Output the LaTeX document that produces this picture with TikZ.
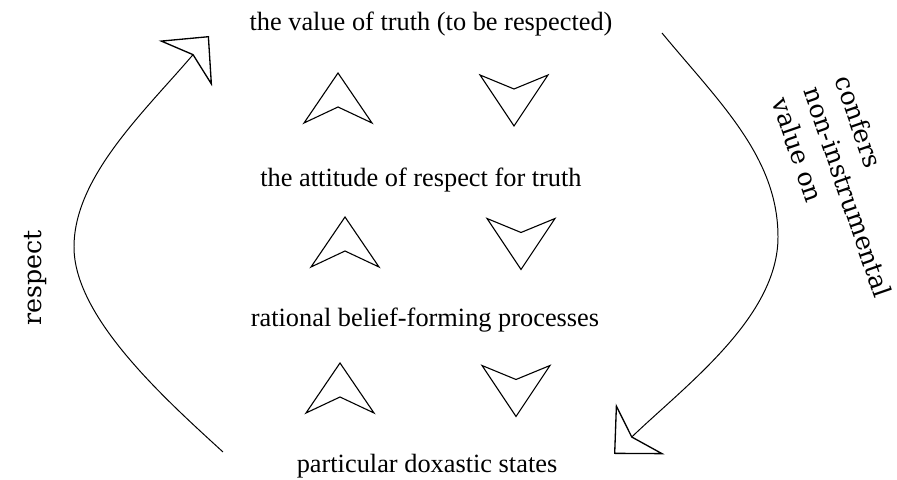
\documentclass[tikz,border=0pt]{standalone}
\usepackage{fontspec}
\setmainfont{Liberation Serif}
\newfontfamily\sidefont{DejaVu Serif}
\usetikzlibrary{arrows.meta}

\begin{document}
\begin{tikzpicture}[
        x=0.016cm, y=0.016cm,
        stage/.style={inner sep=0pt, anchor=base, font=\fontsize{12}{14.4}\selectfont},
        sidelabel/.style={inner sep=0pt, font=\sidefont\fontsize{11.5}{15.2}\selectfont},
        bigarrow/.style={line width=0.45pt, -{Stealth[open, length=16.5pt, width=32pt, inset=5pt, line width=0.6pt]}},
        chev/.style={line width=0.5pt, line join=miter},
        up chevron/.pic={\draw[chev] (0,25) -- (34,-25) -- (0,-9) -- (-34,-25) -- cycle;},
        down chevron/.pic={\draw[chev] (-34,25) -- (0,11) -- (34,25) -- (0,-26) -- cycle;},
    ]
        \useasboundingbox (0,0) rectangle (897,480);

        \node[stage] (value) at (431,449) {the value of truth (to be respected)};
        \node[stage] (attitude) at (421,293) {the attitude of respect for truth};
        \node[stage] (processes) at (425,153) {rational belief-forming processes};
        \node[stage] (states) at (427,7) {particular doxastic states};

        \pic (up1) at (338,382) {up chevron};
        \pic (down1) at (514,380) {down chevron};
        \pic (up2) at (345,238) {up chevron};
        \pic (down2) at (521,236.5) {down chevron};
        \pic (up3) at (340,92) {up chevron};
        \pic (down3) at (516,89.5) {down chevron};

        \node[sidelabel, rotate=90] (respect) at (36,202) {respect};
        \node[sidelabel, align=left, rotate=-71] (confers) at (848,288) {confers\\non-instrumental\\value on};

        \coordinate (respect start) at (223,28);
        \coordinate (respect turn) at (74,233);
        \coordinate (respect end) at (209,444);
        \coordinate (confers start) at (662,447);
        \coordinate (confers turn) at (778,243);
        \coordinate (confers end) at (614,26);

        \draw[bigarrow] (respect start) .. controls (164,82) and (74,163) .. (respect turn)
            .. controls (74,303) and (144,368) .. (respect end);
        \draw[bigarrow] (confers start) .. controls (719,378) and (778,323) .. (confers turn)
            .. controls (778,163) and (686,95) .. (confers end);
    \end{tikzpicture}
\end{document}
